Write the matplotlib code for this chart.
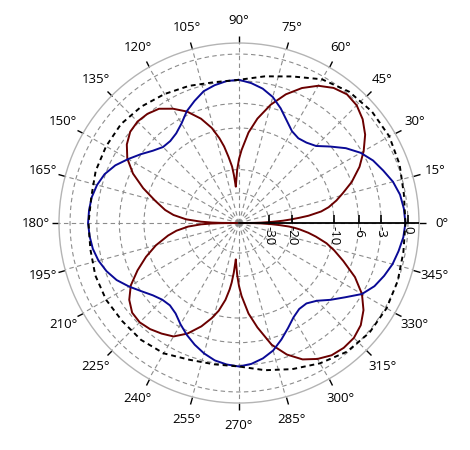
import numpy as np
import matplotlib
matplotlib.use('Agg')
import matplotlib.pyplot as plt

plt.rcParams['font.family'] = ['Open Sans', 'DejaVu Sans']

# pattern levels in dB, angles in degrees
blue_ang = np.arange(0, 361, 5)
blue_db = [-0.26, -0.36, -0.57, -1.01, -1.67, -2.31, -3.21, -4.49, -6.09, -7.62,
           -8.27, -8.52, -8.10, -6.99, -5.66, -4.49, -3.71, -3.21, -2.87, -2.96,
           -3.27, -3.71, -4.56, -5.45, -6.69, -7.54, -7.94, -7.86, -7.07, -5.95,
           -4.83, -3.71, -2.90, -2.42, -2.13, -2.01, -1.96, -2.07, -2.25, -2.60,
           -3.15, -3.90, -4.96, -6.09, -7.07, -7.70, -7.86, -7.38, -6.39, -5.45,
           -4.62, -3.90, -3.33, -3.02, -2.84, -3.09, -3.58, -4.29, -5.38, -6.54,
           -7.62, -8.27, -8.27, -7.46, -6.02, -4.62, -3.02, -2.13, -1.56, -1.06,
           -0.73, -0.42, -0.26]

red_ang = [0, 0.5, 1, 2, 3, 4, 5, 6, 8, 10, 13, 16, 20, 25, 30, 35, 40, 45, 50, 55,
           60, 65, 70, 75, 80, 84, 88, 90, 92, 94, 95, 96, 97, 99, 101, 103, 106, 110,
           115, 120, 125, 130, 135, 140, 145, 150, 155, 160, 165, 170, 173, 176, 178,
           179, 179.5, 180,
           180.5, 181, 182, 184, 187, 190, 195, 200, 205, 210, 215, 220, 225, 230, 235,
           240, 245, 250, 254, 257, 260, 262, 263, 264, 265, 266, 268, 270, 272, 276,
           280, 285, 290, 295, 300, 305, 310, 315, 320, 325, 330, 335, 340, 344, 347,
           350, 352, 354, 355, 356, 357, 358, 359, 359.5, 360]
red_db = [-80, -42.07, -35.42, -28.38, -23.38, -20.31, -17.70, -15.31, -12.35, -10.75,
          -9.12, -7.78, -5.95, -4.16, -2.78, -1.61, -0.79, -0.26, -0.10, -0.42,
          -1.11, -2.19, -3.65, -5.59, -8.10, -10.75, -14.59, -16.87, -20.14, -24.60,
          -26.62, -21.87, -18.88, -16.07, -13.43, -11.53, -9.29, -7.30, -5.52, -4.29,
          -3.33, -2.96, -2.84, -3.02, -3.65, -4.69, -6.39, -8.77, -11.53, -14.11,
          -16.33, -20.14, -25.92, -31.86, -38.90, -80,
          -38.90, -31.86, -25.92, -20.81, -17.14, -14.82, -11.74, -9.29, -7.15, -5.24,
          -4.03, -3.33, -3.21, -3.46, -3.90, -4.42, -5.66, -7.46, -9.29, -10.95,
          -13.43, -16.07, -17.99, -21.16, -26.62, -24.60, -20.47, -17.14, -14.59, -10.75,
          -8.10, -5.10, -3.27, -2.01, -1.28, -0.79, -0.63, -0.68, -1.06, -1.84,
          -3.02, -4.83, -7.30, -9.29, -10.99, -13.43, -15.31, -17.70, -19.19, -21.16,
          -24.60, -28.91, -35.42, -42.07, -80]

total_ang = np.arange(0, 361, 10)
total_db = [-0.26, -0.16, 0.20, 0.46, 0.46, 0.25, -0.31, -1.39, -2.19, -2.87,
            -2.90, -2.54, -2.19, -1.84, -1.61, -1.67, -1.78, -2.07, -2.01, -1.96,
            -1.73, -1.67, -1.78, -1.78, -2.01, -2.60, -2.84, -2.84, -2.13, -1.44,
            -0.73, -0.10, 0.15, 0.15, 0.00, -0.21, -0.26]

r_ticks = [-30, -20, -10, -6, -3, 0]
r_labels = ['-30', '-20', '-10', '-6', '-3', '0']
theta_ticks = np.arange(0, 360, 15)
r_min, r_max = -200, 1.1


def fwd(x):
    return 10 ** (np.asarray(x, dtype=float) / 40.0)


def inv(y):
    return 40 * np.log10(np.maximum(np.asarray(y, dtype=float), 1e-12))


fig = plt.figure(figsize=(4.7, 4.5), dpi=100)
ax = fig.add_axes([0.1255, 0.1044, 0.766, 0.8], projection='polar')
ax.set_rscale('function', functions=(fwd, inv))

ax.plot(np.deg2rad(red_ang), red_db, color='#6b0000', lw=1.4, zorder=3)
ax.plot(np.deg2rad(blue_ang), blue_db, color='#0a0a96', lw=1.4, zorder=4)
ax.plot(np.deg2rad(total_ang), total_db, color='black', lw=1.4,
        linestyle=(0, (2.5, 2)), zorder=5)

ax.set_rlim(r_min, r_max)
ax.set_yticks(r_ticks)
ax.set_yticklabels([])
ax.tick_params(axis='y', length=0)
ax.set_xticks(np.deg2rad(theta_ticks))
ax.set_xticklabels([f'{t}°' for t in theta_ticks])
ax.tick_params(axis='x', which='major', tick1On=False, tick2On=True,
               direction='out', length=5, width=1, color='black',
               pad=4.5, labelsize=9.5)
ax.grid(True, color='#8c8c8c', linestyle=(0, (4, 3)), linewidth=0.8)
ax.spines['polar'].set_edgecolor('#b4b4b4')
ax.spines['polar'].set_linewidth(1)

# radial axis along 0 deg
ax.plot([0, 0], [r_min, r_max], color='black', lw=1.3, zorder=6)
for v, lab in zip(r_ticks, r_labels):
    ax.plot([0], [v], marker=2, color='black', markersize=6, mew=1.2, zorder=6)
    ax.annotate(lab, xy=(0, v), xytext=(0, -2), textcoords='offset points',
                rotation=-90, ha='center', va='top', fontsize=9.5)

fig.savefig('out.png', dpi=100)
